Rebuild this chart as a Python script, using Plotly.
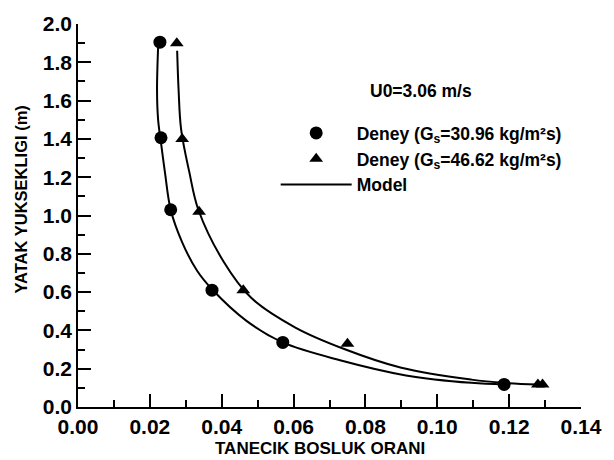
import plotly.graph_objects as go

# Experimental data
circ_x = [0.0228, 0.0231, 0.0258, 0.0373, 0.0570, 0.1186]
circ_y = [1.905, 1.406, 1.030, 0.610, 0.337, 0.118]
tri_x = [0.0275, 0.0290, 0.0337, 0.0460, 0.0750, 0.1280, 0.1293]
tri_y = [1.900, 1.400, 1.020, 0.610, 0.330, 0.118, 0.118]

# Model curves
mod1_x = [0.0223, 0.0220, 0.0223, 0.0231, 0.0242, 0.0258, 0.0290, 0.0332, 0.0373, 0.0469, 0.0570, 0.0732, 0.0913, 0.1095, 0.1186]
mod1_y = [1.880, 1.650, 1.500, 1.380, 1.225, 1.030, 0.860, 0.710, 0.615, 0.450, 0.337, 0.243, 0.165, 0.126, 0.118]
mod2_x = [0.0276, 0.0280, 0.0287, 0.0310, 0.0335, 0.0405, 0.0482, 0.0605, 0.0741, 0.0900, 0.1095, 0.1186, 0.1280]
mod2_y = [1.860, 1.655, 1.450, 1.225, 1.030, 0.760, 0.570, 0.415, 0.303, 0.205, 0.143, 0.126, 0.118]

x_ticks = [0.00, 0.02, 0.04, 0.06, 0.08, 0.10, 0.12, 0.14]
y_ticks = [0.0, 0.2, 0.4, 0.6, 0.8, 1.0, 1.2, 1.4, 1.6, 1.8, 2.0]

FONT = "Liberation Sans, Arial, sans-serif"

fig = go.Figure()
fig.add_trace(go.Scatter(x=mod1_x, y=mod1_y, mode="lines", name="<b>Model</b>",
                         line=dict(color="black", width=2, shape="spline", smoothing=1),
                         legendrank=3, legendgroup="c"))
fig.add_trace(go.Scatter(x=mod2_x, y=mod2_y, mode="lines", name="Model",
                         line=dict(color="black", width=2, shape="spline", smoothing=1),
                         showlegend=False))
fig.add_trace(go.Scatter(x=circ_x, y=circ_y, mode="markers",
                         name="<b>Deney (G<sub>s</sub>=30.96 kg/m²s)</b>",
                         marker=dict(symbol="circle", size=13, color="black"),
                         legendrank=1, legendgroup="a"))
fig.add_trace(go.Scatter(x=tri_x, y=tri_y, mode="markers",
                         name="<b>Deney (G<sub>s</sub>=46.62 kg/m²s)</b>",
                         marker=dict(symbol="triangle-up", size=12, color="black"),
                         legendrank=2, legendgroup="b"))

axis_common = dict(showgrid=False, zeroline=False, showline=True, linecolor="black",
                   linewidth=1.5, mirror=False, ticks="inside", ticklen=13,
                   tickwidth=1.5, tickcolor="black",
                   tickfont=dict(family=FONT, size=21, color="black", weight="bold"))

fig.update_xaxes(range=[0, 0.14], tickvals=x_ticks,
                 ticktext=["<b>%.2f</b>" % v for v in x_ticks],
                 minor=dict(dtick=0.01, ticks="inside", ticklen=7, tickwidth=1.5, tickcolor="black"),
                 **axis_common)
fig.update_yaxes(range=[0, 2.0], tickvals=y_ticks,
                 ticktext=["<b>%.1f</b>" % v for v in y_ticks],
                 minor=dict(dtick=0.1, ticks="inside", ticklen=7, tickwidth=1.5, tickcolor="black"),
                 **axis_common)

fig.add_annotation(text="<b>TANECIK BOSLUK ORANI</b>", xref="paper", yref="paper",
                   x=(325 - 78) / 514, y=(407 - 449) / 387, showarrow=False,
                   xanchor="center", yanchor="middle",
                   font=dict(family=FONT, size=17, color="black"))
fig.add_annotation(text="<b>YATAK YUKSEKLIGI (m)</b>", xref="paper", yref="paper",
                   x=(20 - 78) / 514, y=(407 - 197) / 387, showarrow=False, textangle=-90,
                   xanchor="center", yanchor="middle",
                   font=dict(family=FONT, size=16.5, color="black"))
fig.add_annotation(text="<b>U0=3.06 m/s</b>", xref="paper", yref="paper",
                   x=(428 - 78) / 514, y=(407 - 88) / 387, showarrow=False,
                   xanchor="center", yanchor="middle",
                   font=dict(family=FONT, size=17.5, color="black"))

fig.update_layout(
    width=614, height=460,
    margin=dict(l=78, r=22, t=20, b=53),
    paper_bgcolor="white", plot_bgcolor="white",
    showlegend=True,
    legend=dict(x=(280 - 78) / 514, y=(407 - 112) / 387, xanchor="left", yanchor="top",
                bgcolor="rgba(0,0,0,0)", itemwidth=71, tracegroupgap=3,
                traceorder="normal",
                font=dict(family=FONT, size=17.5, color="black")),
)

fig.write_html("out.html")
